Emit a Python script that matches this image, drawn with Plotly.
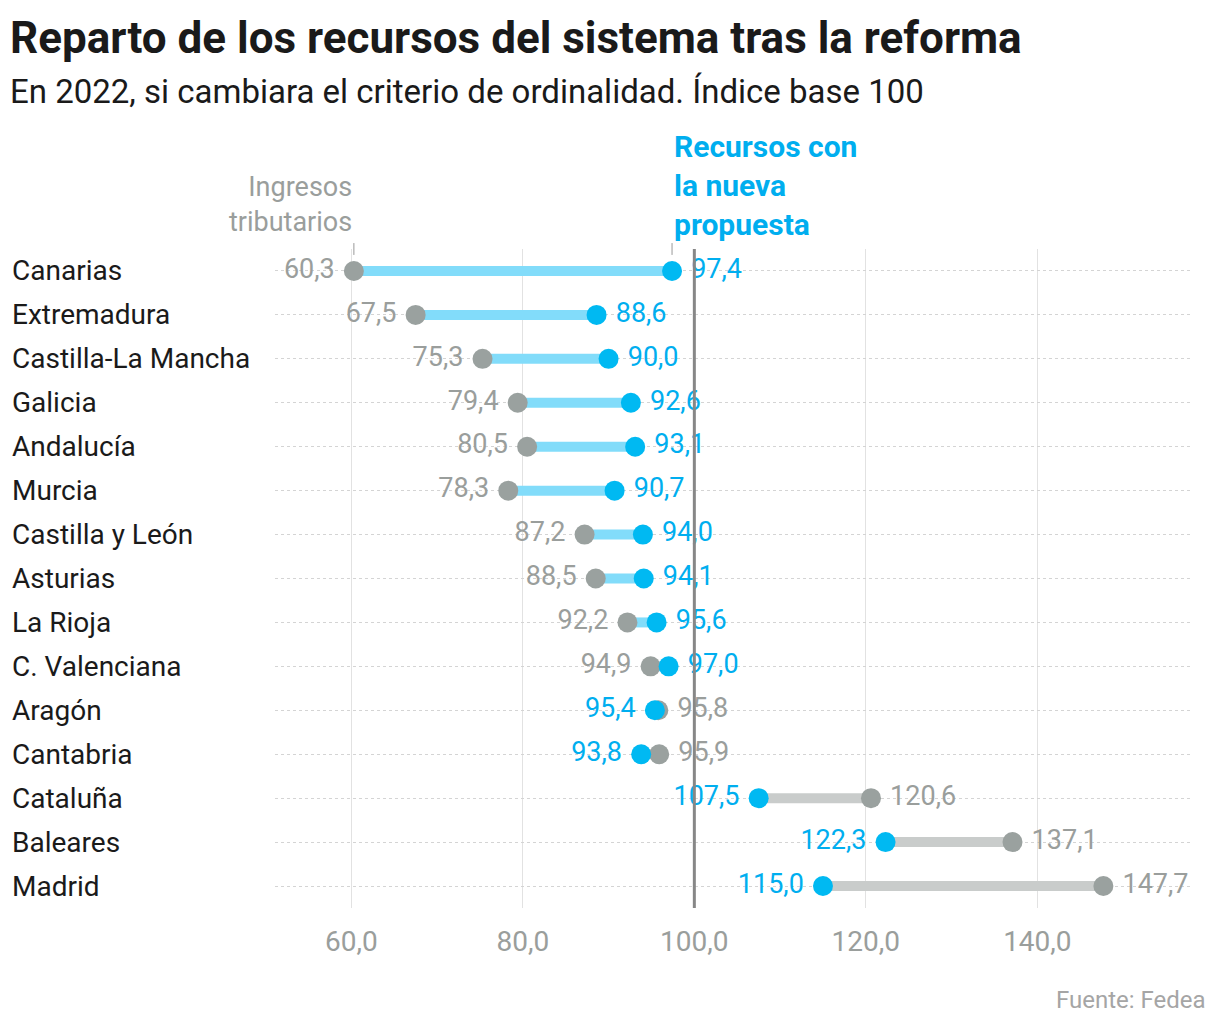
import plotly.graph_objects as go

regiones = ["Canarias", "Extremadura", "Castilla-La Mancha", "Galicia", "Andalucía",
            "Murcia", "Castilla y León", "Asturias", "La Rioja", "C. Valenciana",
            "Aragón", "Cantabria", "Cataluña", "Baleares", "Madrid"]
ingresos = [60.3, 67.5, 75.3, 79.4, 80.5, 78.3, 87.2, 88.5, 92.2, 94.9, 95.8, 95.9, 120.6, 137.1, 147.7]
nueva = [97.4, 88.6, 90.0, 92.6, 93.1, 90.7, 94.0, 94.1, 95.6, 97.0, 95.4, 93.8, 107.5, 122.3, 115.0]
tick_vals = [60, 80, 100, 120, 140]
tick_text = ["60,0", "80,0", "100,0", "120,0", "140,0"]

FONT = "Roboto"
BLUE = "#00b9f2"
BLUE_TXT = "#00aeef"
BLUE_LINE = "#82dcfa"
GRAY = "#9aa19f"
GRAY_TXT = "#9a9e9c"
GRAY_LINE = "#c9cccb"

def fmt(v):
    return f"{v:.1f}".replace(".", ",")

n = len(regiones)
ys = list(range(n))

fig = go.Figure()

# connectors
for i in range(n):
    col = BLUE_LINE if nueva[i] >= ingresos[i] else GRAY_LINE
    fig.add_trace(go.Scatter(x=[ingresos[i], nueva[i]], y=[i, i], mode="lines",
                             line=dict(color=col, width=10), hoverinfo="skip", showlegend=False))

# dots
fig.add_trace(go.Scatter(x=ingresos, y=ys, mode="markers",
                         marker=dict(color=GRAY, size=20), showlegend=False))
fig.add_trace(go.Scatter(x=nueva, y=ys, mode="markers",
                         marker=dict(color=BLUE, size=20), showlegend=False))

# value labels (invisible large markers to offset text)
pos_ing = ["middle left" if ingresos[i] < nueva[i] else "middle right" for i in range(n)]
pos_nue = ["middle right" if ingresos[i] < nueva[i] else "middle left" for i in range(n)]
fig.add_trace(go.Scatter(x=ingresos, y=ys, mode="markers+text",
                         marker=dict(color="rgba(0,0,0,0)", size=29),
                         text=[fmt(v) for v in ingresos], textposition=pos_ing,
                         textfont=dict(family=FONT, size=27, color=GRAY_TXT),
                         hoverinfo="skip", showlegend=False))
fig.add_trace(go.Scatter(x=nueva, y=ys, mode="markers+text",
                         marker=dict(color="rgba(0,0,0,0)", size=29),
                         text=[fmt(v) for v in nueva], textposition=pos_nue,
                         textfont=dict(family=FONT, size=27, color=BLUE_TXT),
                         hoverinfo="skip", showlegend=False))

# 100 reference line
fig.add_shape(type="line", xref="x", yref="paper", x0=100, x1=100, y0=0, y1=1,
              line=dict(color="#878787", width=3), layer="above")

# small header ticks
fig.add_shape(type="line", xref="x", yref="paper", x0=ingresos[0], x1=ingresos[0],
              y0=0.991, y1=1.009, line=dict(color="#999999", width=1))
fig.add_shape(type="line", xref="x", yref="paper", x0=nueva[0], x1=nueva[0],
              y0=0.991, y1=1.009, line=dict(color="#999999", width=1))

# row labels
for i, r in enumerate(regiones):
    fig.add_annotation(xref="paper", yref="y", x=-0.2874, y=i, text=r, showarrow=False,
                       xanchor="left", yanchor="middle", xshift=-2,
                       font=dict(family=FONT, size=28, color="#1a1a1a"))

# series headers
fig.add_annotation(xref="x", yref="paper", x=ingresos[0], y=1.0144, xanchor="right", yanchor="bottom",
                   text="Ingresos<br>tributarios", showarrow=False, align="right",
                   font=dict(family=FONT, size=27, color=GRAY_TXT))
fig.add_annotation(xref="x", yref="paper", x=nueva[0], y=1.0083, xanchor="left", yanchor="bottom",
                   text="<b>Recursos con<br>la nueva<br>propuesta</b>", showarrow=False, align="left",
                   font=dict(family=FONT, size=30, color=BLUE_TXT))

# title, subtitle, source
fig.add_annotation(xref="paper", yref="paper", x=-0.2874, y=1.0, yanchor="middle", xanchor="left",
                   xshift=-4, yshift=(249 - 38),
                   text="<b>Reparto de los recursos del sistema tras la reforma</b>",
                   showarrow=False, font=dict(family=FONT, size=44, color="#1a1a1a"))
fig.add_annotation(xref="paper", yref="paper", x=-0.2874, y=1.0, yanchor="middle", xanchor="left",
                   xshift=-4, yshift=(249 - 91),
                   text="En 2022, si cambiara el criterio de ordinalidad. Índice base 100",
                   showarrow=False, font=dict(family=FONT, size=33, color="#1a1a1a"))
fig.add_annotation(xref="paper", yref="paper", x=1.0, y=0, yanchor="middle", xanchor="right",
                   xshift=18, yshift=-(1000 - 908), text="Fuente: Fedea",
                   showarrow=False, font=dict(family=FONT, size=24, color="#a5a5a5"))

fig.update_layout(
    width=1212, height=1022,
    margin=dict(l=267, r=30, t=241, b=122),
    plot_bgcolor="white", paper_bgcolor="white",
    xaxis=dict(range=[51.1, 157.8], tickvals=tick_vals, ticktext=tick_text,
               showgrid=True, gridcolor="#e2e2e2", gridwidth=1, zeroline=False,
               ticks="outside", ticklen=8, tickcolor="rgba(0,0,0,0)",
               tickfont=dict(family=FONT, size=28, color="#9a9e9c"), showline=False),
    yaxis=dict(range=[n - 0.5, -0.5], tickvals=ys, showticklabels=False,
               showgrid=True, gridcolor="#d4d4d4", griddash="dot", gridwidth=1,
               zeroline=False, showline=False),
    font=dict(family=FONT),
)

fig.write_html("out.html")
